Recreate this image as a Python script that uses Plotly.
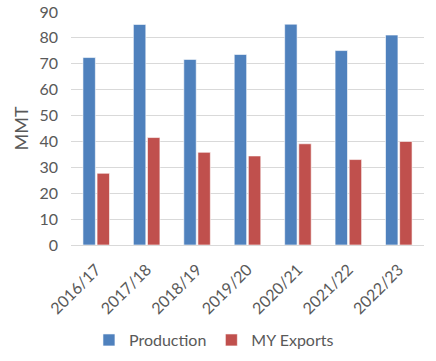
import plotly.graph_objects as go

categories = ["2016/17", "2017/18", "2018/19", "2019/20", "2020/21", "2021/22", "2022/23"]
production = [72.4, 85.2, 71.7, 73.6, 85.3, 75.1, 81.1]
my_exports = [27.7, 41.5, 35.8, 34.4, 39.1, 33.0, 40.0]
y_ticks = [0, 10, 20, 30, 40, 50, 60, 70, 80, 90]

FONT = "Lato, Open Sans, sans-serif"
GREY = "#595959"

fig = go.Figure()
fig.add_trace(go.Bar(x=categories, y=production, name="Production",
                     marker=dict(color="#4F81BD", line=dict(color="rgba(255,255,255,0.6)", width=1))))
fig.add_trace(go.Bar(x=categories, y=my_exports, name="MY Exports",
                     marker=dict(color="#C0504D", line=dict(color="rgba(255,255,255,0.6)", width=1))))

fig.update_layout(
    width=436, height=361,
    margin=dict(l=71, r=12, t=12, b=116, autoexpand=False),
    paper_bgcolor="white", plot_bgcolor="white",
    barmode="group", bargap=0.44, bargroupgap=0.12,
    font=dict(family=FONT, color=GREY, size=16),
    showlegend=True,
    legend=dict(orientation="h", x=0.405, xanchor="center", y=-0.408, yanchor="middle",
                font=dict(size=16, color=GREY), traceorder="normal"),
    xaxis=dict(tickangle=-45, tickfont=dict(size=16, color=GREY), showgrid=False,
               showline=True, linecolor="#d9d9d9", ticks="", automargin=False,
               ticklabelstandoff=8),
    yaxis=dict(range=[0, 90], tickvals=y_ticks, showgrid=True, gridcolor="#d9d9d9",
               zeroline=False, tickfont=dict(size=16, color=GREY), ticks="", ticklen=0,
               automargin=False, ticklabelstandoff=12,
               title=dict(text="MMT", font=dict(size=18, color=GREY), standoff=6)),
)

fig.write_html("out.html", post_script="document.body.style.margin='0';",
               config={"displayModeBar": False})
